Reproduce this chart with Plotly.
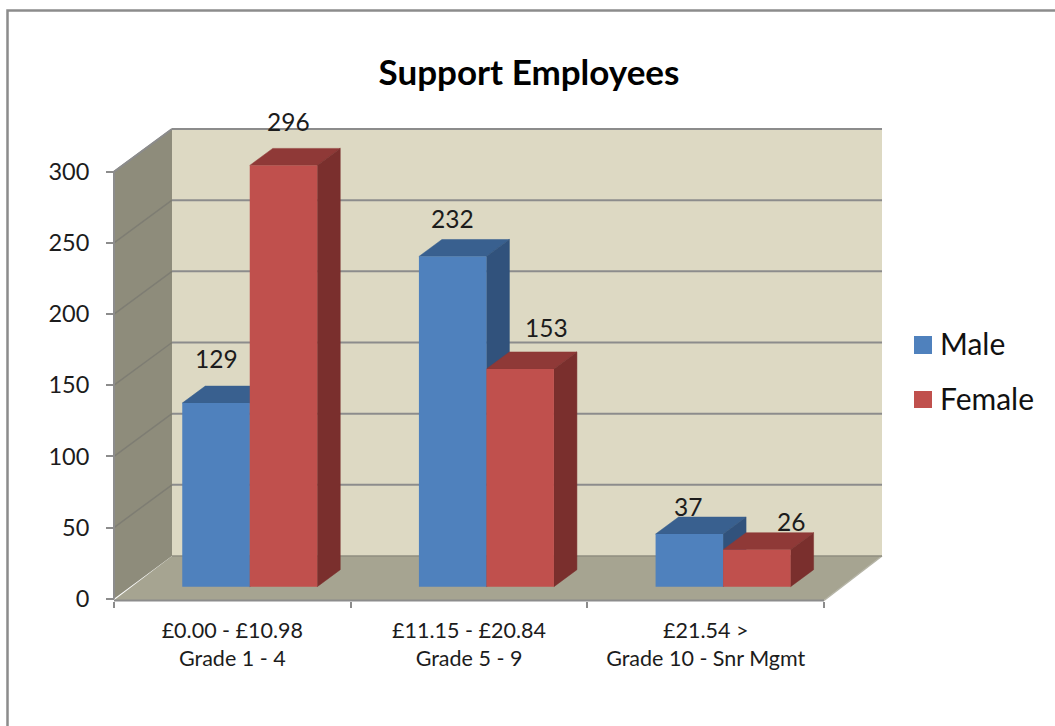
import plotly.graph_objects as go

CATEGORIES = ['£0.00 - £10.98<br>Grade 1 - 4', '£11.15 - £20.84<br>Grade 5 - 9', '£21.54 ><br>Grade 10 - Snr Mgmt']
MALE = [129, 232, 37]
FEMALE = [296, 153, 26]
Y_TICKS = [0, 50, 100, 150, 200, 250, 300]

W, H = 1055, 726
FONT = 'Lato'
TEXT = '#1c1c1c'
GREY = '#8c8c8c'

# pixel position of the front axes, everything else is worked out from these
X_ORIGIN, GROUP_PX = 114, 236.67
Y_ORIGIN, UNIT_PX = 598.7, 1.4233


def dx(px):
    return px / GROUP_PX


def dy(px):
    return px / UNIT_PX


# depth of the chart box and of the bars
BOX_X, BOX_Y = dx(58), dy(42.7)
BAR_X, BAR_Y = dx(23), dy(17)
BAR_BASE = dy(12)
BAR_W = dx(67.5)
MALE_POS = dx(102)
FEMALE_POS = dx(169.5)

X_RANGE = [dx(-X_ORIGIN), dx(W - X_ORIGIN)]
Y_RANGE = [dy(Y_ORIGIN - H), dy(Y_ORIGIN)]


def poly(x, y):
    path = 'M' + ' L'.join(f'{a},{b}' for a, b in zip(x, y)) + ' Z'
    return dict(type='path', path=path, xref='x', yref='y', line_width=0, layer='below')


def box_line(x0, y0, x1, y1, color, width, layer='below'):
    return dict(type='line', xref='x', yref='y', x0=x0, y0=y0, x1=x1, y1=y1,
                line=dict(color=color, width=width), layer=layer)


def face(x, y, color):
    return go.Scatter(x=x, y=y, mode='lines', fill='toself', fillcolor=color,
                      line=dict(color=color, width=0.5), hoverinfo='skip', showlegend=False)


def add_box_faces(fig, center, value, top_color, side_color):
    """Top and right side of one bar, the front is a real bar on the overlay axes"""
    left, right = center - BAR_W / 2, center + BAR_W / 2
    top = BAR_BASE + value
    fig.add_trace(face([left, left + BAR_X, right + BAR_X, right, left],
                       [top, top + BAR_Y, top + BAR_Y, top, top], top_color))
    fig.add_trace(face([right, right + BAR_X, right + BAR_X, right, right],
                       [BAR_BASE, BAR_BASE + BAR_Y, top + BAR_Y, top, BAR_BASE], side_color))


fig = go.Figure()

for i in range(len(CATEGORIES)):
    add_box_faces(fig, i + MALE_POS, MALE[i], '#39608F', '#31527C')
    add_box_faces(fig, i + FEMALE_POS, FEMALE[i], '#8F3937', '#7A2F2D')

fig.add_trace(go.Bar(name='Male', x=[i + MALE_POS for i in range(3)], y=MALE, base=BAR_BASE, width=BAR_W,
                     marker=dict(color='#4F81BD', line_width=0), xaxis='x2', yaxis='y2', showlegend=False))
fig.add_trace(go.Bar(name='Female', x=[i + FEMALE_POS for i in range(3)], y=FEMALE, base=BAR_BASE, width=BAR_W,
                     marker=dict(color='#C0504D', line_width=0), xaxis='x2', yaxis='y2', showlegend=False))

# walls and floor of the box
top_y = Y_TICKS[-1]
shapes = [
    poly([0, BOX_X, BOX_X, 0], [0, BOX_Y, top_y + BOX_Y, top_y]) | dict(fillcolor='#8E8C7B'),
    poly([BOX_X, 3 + BOX_X, 3 + BOX_X, BOX_X], [BOX_Y, BOX_Y, top_y + BOX_Y, top_y + BOX_Y]) | dict(fillcolor='#DDD9C3'),
    poly([0, 3, 3 + BOX_X, BOX_X], [-dy(1.5), -dy(1.5), BOX_Y, BOX_Y]) | dict(fillcolor='#A6A491'),
]
for tick in Y_TICKS[1:]:
    shapes.append(box_line(0, tick, BOX_X, tick + BOX_Y, '#7E7D73', 1.5))
    shapes.append(box_line(BOX_X, tick + BOX_Y, 3 + BOX_X, tick + BOX_Y, GREY, 2))
shapes.append(box_line(0, top_y, BOX_X, top_y + BOX_Y, GREY, 2))
shapes.append(box_line(3, -dy(1.8), 3 + BOX_X, BOX_Y, '#B5B4A6', 1.5))
shapes.append(box_line(BOX_X, BOX_Y, 3 + BOX_X, BOX_Y, '#8F8E80', 1.5))
# front axis lines, the free axes would run across the whole page otherwise
shapes.append(box_line(0, 0, 0, top_y, GREY, 2, layer='above'))
shapes.append(box_line(0, -dy(1.8), 3, -dy(1.8), GREY, 2, layer='above'))
# outer chart frame, runs off the page on the right and at the bottom
shapes.append(dict(type='rect', xref='paper', yref='paper', x0=7.5 / W, x1=1.2, y0=-0.2, y1=1 - 10.5 / H,
                   line=dict(color=GREY, width=2.5)))
# legend swatches
shapes.append(dict(type='rect', xref='paper', yref='paper', x0=914 / W, x1=932 / W, y0=1 - 354 / H, y1=1 - 336 / H,
                   fillcolor='#4F81BD', line_width=0))
shapes.append(dict(type='rect', xref='paper', yref='paper', x0=914 / W, x1=932 / W, y0=1 - 408 / H, y1=1 - 391 / H,
                   fillcolor='#C0504D', line_width=0))


def value_label(center, value, shift_x, shift_y):
    return dict(x=center, y=BAR_BASE + value, xref='x', yref='y', text=str(value), showarrow=False,
                xshift=shift_x, yshift=shift_y, font=dict(family=FONT, size=24.5, color=TEXT))


# labels sit by hand around the bars in the original
annotations = [
    value_label(MALE_POS, MALE[0], 0, 45),
    value_label(FEMALE_POS, FEMALE[0], 5, 44),
    value_label(1 + MALE_POS, MALE[1], 0, 38),
    value_label(1 + FEMALE_POS, FEMALE[1], 26, 41),
    value_label(2 + MALE_POS, MALE[2], -1, 28),
    value_label(2 + FEMALE_POS, FEMALE[2], 34, 28),
]
for name, y_px in (('Male', 343), ('Female', 398)):
    annotations.append(dict(x=938 / W, y=1 - y_px / H, xref='paper', yref='paper', text=name, showarrow=False,
                            xanchor='left', yanchor='middle', font=dict(family=FONT, size=30, color='#111111')))

fig.update_layout(
    width=W,
    height=H,
    margin=dict(l=0, r=0, t=0, b=0),
    paper_bgcolor='white',
    plot_bgcolor='white',
    barmode='overlay',
    showlegend=False,
    hovermode=False,
    title=dict(text='<b>Support Employees</b>', x=529 / W, y=1 - 73 / H, xanchor='center', yanchor='middle',
               font=dict(family=FONT, size=35, color='black')),
    xaxis=dict(range=X_RANGE, domain=[0, 1], anchor='free', position=1 - 600.5 / H, showgrid=False, zeroline=False,
               showline=False, tickmode='array', tickvals=[0.5, 1.5, 2.5], ticktext=CATEGORIES, ticks='',
               ticklabelstandoff=15, tickfont=dict(family=FONT, size=21.5, color=TEXT),
               minor=dict(tickmode='array', tickvals=[0, 1, 2, 3], ticks='outside', ticklen=6, tickwidth=2, tickcolor=GREY)),
    yaxis=dict(range=Y_RANGE, domain=[0, 1], anchor='free', position=X_ORIGIN / W, showgrid=False, zeroline=False,
               showline=False, tickmode='array', tickvals=Y_TICKS, ticks='outside', ticklen=8, tickwidth=2, tickcolor=GREY,
               ticklabelstandoff=12, tickfont=dict(family=FONT, size=23.5, color=TEXT)),
    xaxis2=dict(range=X_RANGE, domain=[0, 1], overlaying='x', visible=False),
    yaxis2=dict(range=Y_RANGE, domain=[0, 1], overlaying='y', visible=False),
    shapes=shapes,
    annotations=annotations,
)

fig.write_html('out.html', config={'displayModeBar': False},
               post_script="document.body.style.margin='0';document.body.style.overflow='hidden';")
